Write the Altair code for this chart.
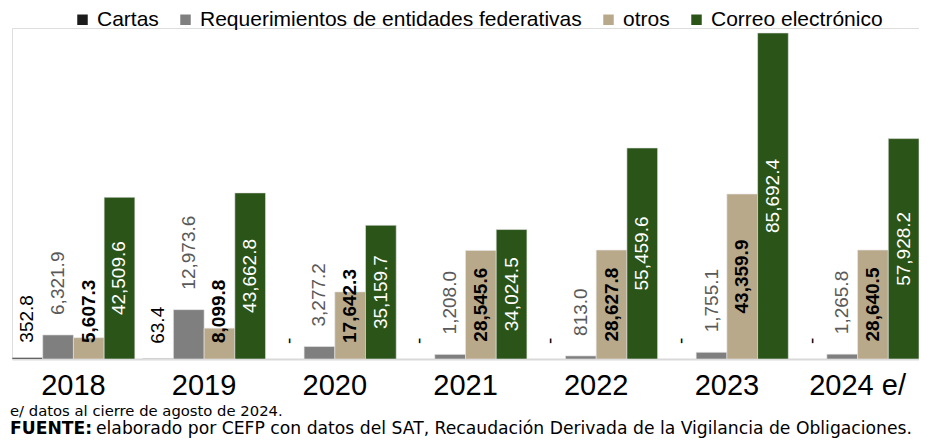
import altair as alt
import pandas as pd

years = ["2018", "2019", "2020", "2021", "2022", "2023", "2024 e/"]
series = ["Cartas", "Requerimientos de entidades federativas", "otros", "Correo electrónico"]
cartas = [352.8, 63.4, None, None, None, None, None]
requerimientos = [6321.9, 12973.6, 3277.2, 1208.0, 813.0, 1755.1, 1265.8]
otros = [5607.3, 8099.8, 17642.3, 28545.6, 28627.8, 43359.9, 28640.5]
correo = [42509.6, 43662.8, 35159.7, 34024.5, 55459.6, 85692.4, 57928.2]
colors = ["#1c1c1c", "#7f7f7f", "#b9a98b", "#2a5418"]
note = "e/ datos al cierre de agosto de 2024."
source_bold = "FUENTE:"
source_text = "elaborado por CEFP con datos del SAT, Recaudación Derivada de la Vigilancia de Obligaciones."

rows = []
for s, vals in zip(series, [cartas, requerimientos, otros, correo]):
    for y, v in zip(years, vals):
        rows.append({"year": y, "series": s, "value": v})
df = pd.DataFrame(rows)

LAB = "Liberation Sans"
WIDE = "DejaVu Sans"
LSIZE = 19

xenc = alt.X("year:N", sort=years,
             scale=alt.Scale(paddingInner=0.06, paddingOuter=0),
             axis=alt.Axis(title=None, labelAngle=0, ticks=False, domainColor="#d9d9d9",
                           domainWidth=2, labelFont=LAB, labelFontSize=29,
                           labelColor="#000000", labelPadding=12))
xoff = alt.XOffset("series:N", sort=series, scale=alt.Scale(paddingInner=0, paddingOuter=0))
yscale = alt.Scale(domain=[0, 87000])

base = alt.Chart(df).encode(x=xenc, xOffset=xoff)

bars = base.mark_bar(stroke="#e6e6e6", strokeWidth=0.6).encode(
    y=alt.Y("value:Q", scale=yscale, axis=None),
    color=alt.Color("series:N", sort=series,
                    scale=alt.Scale(domain=series, range=colors),
                    legend=alt.Legend(title=None, orient="none", legendX=60, legendY=-19,
                                      direction="horizontal", symbolType="square",
                                      symbolSize=110, symbolStrokeWidth=0,
                                      labelFont=LAB, labelFontSize=21,
                                      labelColor="#000000", columnPadding=16,
                                      labelLimit=0)),
)

cartas_lab = base.transform_filter("datum.series == 'Cartas'").transform_calculate(
    lab="datum.value == null ? '-' : format(datum.value, ',.1f')",
    ypos="datum.value == null ? 0 : datum.value",
).mark_text(angle=270, align="left", baseline="middle", dx=15, font=LAB,
            fontSize=LSIZE, color="#000000").encode(
    y=alt.Y("ypos:Q", scale=yscale, axis=None), text="lab:N")

req_lab = base.transform_filter(f"datum.series == '{series[1]}'").mark_text(
    angle=270, align="left", baseline="middle", dx=20, font=LAB, fontSize=LSIZE,
    color="#595959").encode(
    y=alt.Y("value:Q", scale=yscale, axis=None), text=alt.Text("value:Q", format=",.1f"))

otros_low = base.transform_filter("datum.series == 'otros' && datum.value < 28400").mark_text(
    angle=270, align="left", baseline="middle", dx=16, font=LAB, fontSize=LSIZE,
    fontWeight="bold", color="#000000").encode(
    y=alt.value(331), text=alt.Text("value:Q", format=",.1f"))

otros_hi = base.transform_filter("datum.series == 'otros' && datum.value >= 28400").transform_calculate(
    half="datum.value / 2").mark_text(
    angle=270, align="center", baseline="middle", font=LAB, fontSize=LSIZE,
    fontWeight="bold", color="#000000").encode(
    y=alt.Y("half:Q", scale=yscale, axis=None), text=alt.Text("value:Q", format=",.1f"))

correo_lab = base.transform_filter(f"datum.series == '{series[3]}'").transform_calculate(
    half="datum.value / 2").mark_text(
    angle=270, align="center", baseline="middle", font=LAB, fontSize=LSIZE,
    color="#ffffff").encode(
    y=alt.Y("half:Q", scale=yscale, axis=None), text=alt.Text("value:Q", format=",.1f"))

notes_df = pd.DataFrame({"note": [note], "bold": [source_bold], "src": [source_text]})
note1 = alt.Chart(notes_df).mark_text(align="left", baseline="alphabetic", font=WIDE,
                                      fontSize=14.8, color="#000000").encode(
    x=alt.value(-2), y=alt.value(388), text="note:N")
note2a = alt.Chart(notes_df).mark_text(align="left", baseline="alphabetic", font=WIDE,
                                       fontSize=17.2, fontWeight="bold", color="#000000").encode(
    x=alt.value(-2), y=alt.value(406), text="bold:N")
note2b = alt.Chart(notes_df).mark_text(align="left", baseline="alphabetic", font=WIDE,
                                       fontSize=17.2, color="#000000").encode(
    x=alt.value(84), y=alt.value(406), text="src:N")

chart = alt.layer(bars, cartas_lab, req_lab, otros_low, otros_hi, correo_lab,
                  note1, note2a, note2b).properties(
    width=907, height=331,
    autosize=alt.AutoSizeParams(type="none"),
    padding={"left": 4, "top": 20, "right": 0, "bottom": 80},
).configure_view(stroke=None).configure(background="#ffffff")

chart.save("out.html", embed_options={"renderer": "svg", "actions": False})
